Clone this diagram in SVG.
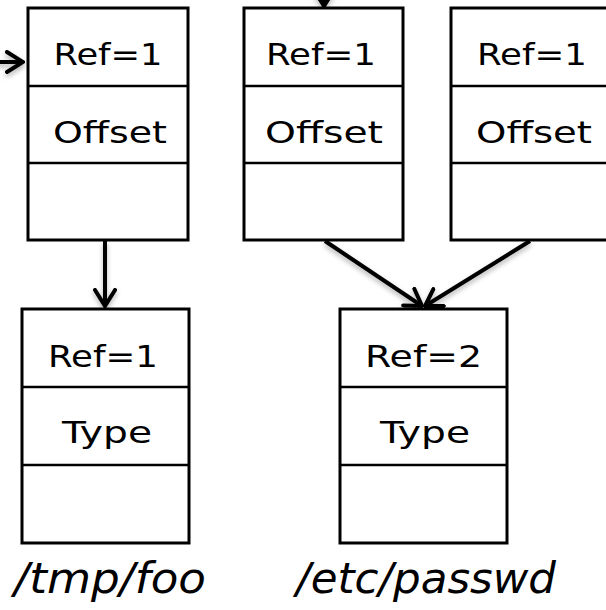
<svg xmlns="http://www.w3.org/2000/svg" width="606" height="610" viewBox="0 0 606 610">
<style>
  .box { fill: #fff; stroke: #000; stroke-width: 3; }
  .div { stroke: #000; stroke-width: 2.5; }
  .t { font-family: "DejaVu Sans", "Liberation Sans", sans-serif; font-size: 31px; fill: #000; text-anchor: middle; }
  .lbl { font-family: "DejaVu Sans", "Liberation Sans", sans-serif; font-style: oblique; font-size: 43px; fill: #000; }
  .conn { stroke: #000; stroke-width: 4; fill: none; marker-end: url(#arr); }
</style>
<defs>
  <marker id="arr" viewBox="0 0 20 24" refX="18" refY="12" markerWidth="20" markerHeight="24" markerUnits="userSpaceOnUse" orient="auto">
    <path d="M2,2 L18,12 L2,22" fill="none" stroke="#000" stroke-width="4" stroke-linejoin="miter" stroke-linecap="round"/>
  </marker>
  <filter id="sh" x="-50%" y="-50%" width="200%" height="200%">
    <feDropShadow dx="0" dy="3" stdDeviation="2.5" flood-color="#000" flood-opacity="0.3"/>
  </filter>
</defs>
<rect width="606" height="610" fill="#fff"/>

<g id="connectors" filter="url(#sh)">
  <line class="conn" x1="-5" y1="62" x2="23" y2="62"/>
  <line class="conn" x1="324" y1="-14" x2="324" y2="6"/>
  <line class="conn" x1="105" y1="241" x2="105" y2="306"/>
  <line class="conn" x1="325" y1="241" x2="422" y2="306"/>
  <line class="conn" x1="530" y1="241" x2="425" y2="306"/>
</g>

<g id="file1">
  <rect class="box" x="28" y="8" width="160" height="232"/>
  <line class="div" x1="28" y1="86" x2="188" y2="86"/>
  <line class="div" x1="28" y1="163" x2="188" y2="163"/>
  <text class="t" x="108" y="65" textLength="109" lengthAdjust="spacingAndGlyphs">Ref=1</text>
  <text class="t" x="110" y="143" textLength="114" lengthAdjust="spacingAndGlyphs">Offset</text>
</g>

<g id="file2">
  <rect class="box" x="244" y="8" width="159" height="232"/>
  <line class="div" x1="244" y1="86" x2="403" y2="86"/>
  <line class="div" x1="244" y1="163" x2="403" y2="163"/>
  <text class="t" x="321" y="65" textLength="110" lengthAdjust="spacingAndGlyphs">Ref=1</text>
  <text class="t" x="324" y="143" textLength="118" lengthAdjust="spacingAndGlyphs">Offset</text>
</g>

<g id="file3">
  <rect class="box" x="451" y="8" width="160" height="232"/>
  <line class="div" x1="451" y1="86" x2="611" y2="86"/>
  <line class="div" x1="451" y1="163" x2="611" y2="163"/>
  <text class="t" x="532" y="65" textLength="110" lengthAdjust="spacingAndGlyphs">Ref=1</text>
  <text class="t" x="534" y="143" textLength="116" lengthAdjust="spacingAndGlyphs">Offset</text>
</g>

<g id="inode1">
  <rect class="box" x="22" y="309" width="167" height="234"/>
  <line class="div" x1="22" y1="387" x2="189" y2="387"/>
  <line class="div" x1="22" y1="465" x2="189" y2="465"/>
  <text class="t" x="103" y="367" textLength="110" lengthAdjust="spacingAndGlyphs">Ref=1</text>
  <text class="t" x="107" y="443" textLength="90" lengthAdjust="spacingAndGlyphs">Type</text>
</g>

<g id="inode2">
  <rect class="box" x="340" y="309" width="167" height="234"/>
  <line class="div" x1="340" y1="387" x2="507" y2="387"/>
  <line class="div" x1="340" y1="465" x2="507" y2="465"/>
  <text class="t" x="423.5" y="367" textLength="117" lengthAdjust="spacingAndGlyphs">Ref=2</text>
  <text class="t" x="425" y="443" textLength="90" lengthAdjust="spacingAndGlyphs">Type</text>
</g>

<g id="labels">
  <text class="lbl" x="14" y="593" textLength="192" lengthAdjust="spacingAndGlyphs">/tmp/foo</text>
  <text class="lbl" x="296" y="593" textLength="260" lengthAdjust="spacingAndGlyphs">/etc/passwd</text>
</g>
</svg>
